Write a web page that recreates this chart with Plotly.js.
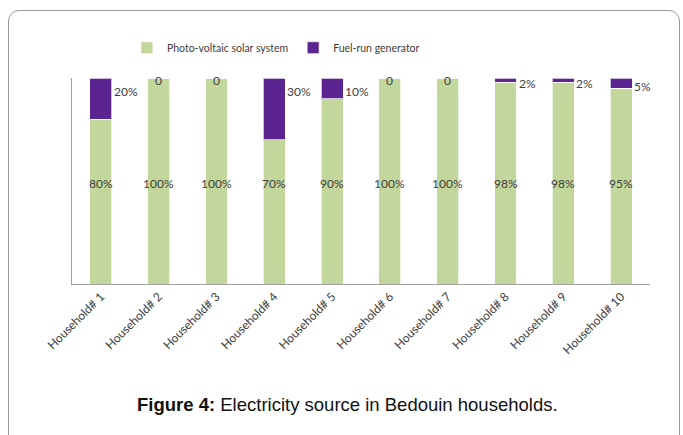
<!DOCTYPE html>
<html>
<head>
<meta charset="utf-8">
<script src="https://cdn.plot.ly/plotly-3.0.1.min.js"></script>
<style>
  html, body { margin: 0; padding: 0; background: #ffffff; }
  #chart { width: 683px; height: 435px; position: absolute; left: 0; top: 0; }
  #frame { position: absolute; left: 8px; top: 10px; width: 672px; height: 440px;
           border: 1px solid #9a9a9a; border-radius: 11px; box-sizing: border-box; pointer-events: none; }
</style>
</head>
<body>
<div id="chart"></div>
<div id="frame"></div>
<script>
const households = ['Household# 1', 'Household# 2', 'Household# 3', 'Household# 4', 'Household# 5',
                    'Household# 6', 'Household# 7', 'Household# 8', 'Household# 9', 'Household# 10'];
const solarShare = [80, 100, 100, 70, 90, 100, 100, 98, 98, 95];
const fuelShare = [20, 0, 0, 30, 10, 0, 0, 2, 2, 5];
const seriesNames = ['Photo-voltaic solar system', 'Fuel-run generator'];

const GREEN = '#c3d69b';
const PURPLE = '#5c2490';
const TXT = '#404040';
const FONT = 'Lato, "Open Sans", sans-serif';

const traces = [
  { type: 'bar', name: seriesNames[0], x: households, y: solarShare,
    marker: { color: GREEN, line: { color: 'rgba(255,255,255,0.7)', width: 1 } },
    width: 0.38, hoverinfo: 'none' },
  { type: 'bar', name: seriesNames[1], x: households, y: fuelShare,
    marker: { color: PURPLE, line: { color: 'rgba(255,255,255,0.7)', width: 1 } },
    width: 0.38, hoverinfo: 'none' }
];

const annotations = [];
solarShare.forEach((v, i) => {
  annotations.push({ x: households[i], y: 49, xref: 'x', yref: 'y', text: v + '%',
    showarrow: false, xanchor: 'center', yanchor: 'middle',
    font: { family: FONT, size: 12, color: TXT } });
});
fuelShare.forEach((v, i) => {
  if (v === 0) {
    annotations.push({ x: households[i], y: 99, xref: 'x', yref: 'y', text: '0',
      showarrow: false, xanchor: 'center', yanchor: 'middle',
      font: { family: FONT, size: 12, color: TXT } });
  } else {
    annotations.push({ x: households[i], y: 100 - Math.min(v + 3, 13) / 2, xref: 'x', yref: 'y',
      text: v + '%', showarrow: false, xanchor: 'left', yanchor: 'middle', xshift: 11,
      font: { family: FONT, size: 12, color: TXT } });
  }
});
annotations.push({ xref: 'paper', yref: 'paper', x: 0.477, y: -0.587, xanchor: 'center', yanchor: 'middle',
  text: '<b>Figure 4:</b> Electricity source in Bedouin households.', showarrow: false,
  font: { family: '"Liberation Sans", Arial, sans-serif', size: 18.5, color: '#111111' } });

const layout = {
  width: 683, height: 435,
  margin: { l: 72, r: 33, t: 78, b: 151 },
  paper_bgcolor: 'rgba(0,0,0,0)', plot_bgcolor: 'rgba(0,0,0,0)',
  barmode: 'stack',
  showlegend: true,
  legend: { orientation: 'h', x: 0.095, xanchor: 'left', y: 1.147, yanchor: 'middle',
    font: { family: FONT, size: 10.5, color: TXT }, itemwidth: 30, traceorder: 'normal',
    bgcolor: 'rgba(0,0,0,0)' },
  xaxis: { type: 'category', range: [-0.5, 9.5], tickangle: -45, showline: true, linecolor: '#a0a0a0',
    linewidth: 1, ticks: '', showgrid: false, zeroline: false,
    tickfont: { family: FONT, size: 12, color: TXT } },
  yaxis: { range: [0, 100], showline: true, linecolor: '#a0a0a0', linewidth: 1, showticklabels: false,
    ticks: '', showgrid: false, zeroline: false },
  annotations: annotations,
  font: { family: FONT }
};

Plotly.newPlot('chart', traces, layout, { staticPlot: true, displayModeBar: false });
</script>
</body>
</html>
